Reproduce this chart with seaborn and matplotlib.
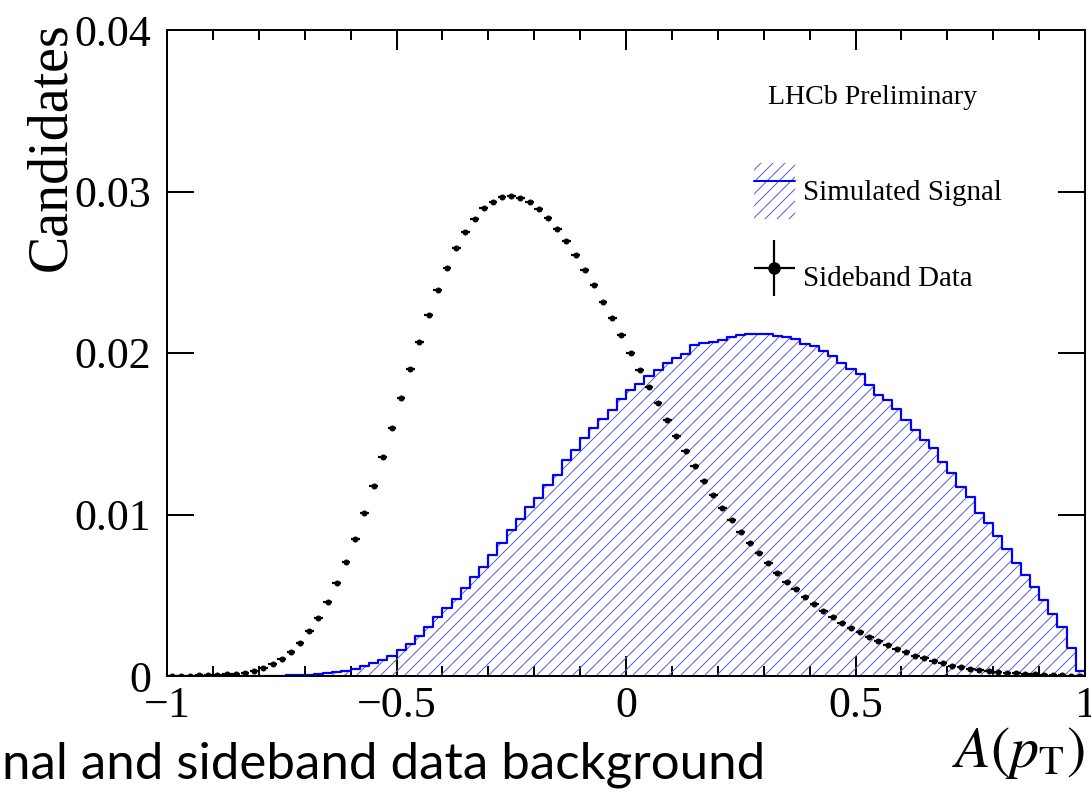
import numpy as np
import matplotlib
matplotlib.use("Agg")
import matplotlib.pyplot as plt
import matplotlib.patches as mpatches
from matplotlib.lines import Line2D
from matplotlib.container import ErrorbarContainer
from matplotlib.legend_handler import HandlerTuple, HandlerErrorbar
import seaborn as sns

# 100 bins of A(pT) between -1 and 1
x_lo, x_hi, n_bins = -1.0, 1.0, 100

simulated_signal = [
    0.0, 0.0, 0.0, 0.0, 0.0, 0.0, 0.0, 0.0, 0.0, 0.0,
    0.00001, 0.00002, 0.00003, 0.00004, 0.00006, 0.00009, 0.00012, 0.00017, 0.00024, 0.00032,
    0.00046, 0.00061, 0.00078, 0.00099, 0.00126, 0.00158, 0.00196, 0.00245, 0.00305, 0.00365,
    0.00419, 0.00477, 0.00547, 0.00611, 0.00677, 0.00749, 0.00822, 0.00904, 0.00972, 0.01048,
    0.01104, 0.01183, 0.01245, 0.01335, 0.01402, 0.01475, 0.01534, 0.01590, 0.01647, 0.01713,
    0.01771, 0.01808, 0.01858, 0.01895, 0.01936, 0.01967, 0.01992, 0.02050, 0.02060, 0.02070,
    0.02080, 0.02097, 0.02111, 0.02116, 0.02118, 0.02118, 0.02105, 0.02101, 0.02085, 0.02056,
    0.02043, 0.02014, 0.01980, 0.01940, 0.01900, 0.01870, 0.01802, 0.01740, 0.01709, 0.01651,
    0.01585, 0.01523, 0.01461, 0.01410, 0.01327, 0.01259, 0.01172, 0.01110, 0.01011, 0.00949,
    0.00867, 0.00784, 0.00702, 0.00625, 0.00553, 0.00471, 0.00384, 0.00305, 0.00171, 0.00033,
]

sideband_data = [
    0.00003, 0.00003, 0.00003, 0.00004, 0.00005, 0.00008, 0.00010, 0.00014, 0.00020, 0.00031,
    0.00051, 0.00074, 0.00107, 0.00150, 0.00204, 0.00277, 0.00361, 0.00460, 0.00576, 0.00708,
    0.00850, 0.01011, 0.01176, 0.01358, 0.01537, 0.01720, 0.01899, 0.02070, 0.02237, 0.02390,
    0.02526, 0.02648, 0.02747, 0.02830, 0.02896, 0.02937, 0.02964, 0.02972, 0.02958, 0.02933,
    0.02890, 0.02834, 0.02770, 0.02692, 0.02609, 0.02516, 0.02421, 0.02318, 0.02217, 0.02110,
    0.02002, 0.01895, 0.01791, 0.01688, 0.01585, 0.01488, 0.01391, 0.01298, 0.01209, 0.01123,
    0.01042, 0.00966, 0.00894, 0.00824, 0.00760, 0.00698, 0.00640, 0.00582, 0.00537, 0.00489,
    0.00444, 0.00402, 0.00365, 0.00328, 0.00297, 0.00270, 0.00243, 0.00217, 0.00192, 0.00167,
    0.00147, 0.00126, 0.00110, 0.00093, 0.00079, 0.00064, 0.00054, 0.00043, 0.00037, 0.00029,
    0.00025, 0.00020, 0.00017, 0.00012, 0.00010, 0.00008, 0.00006, 0.00004, 0.00003, 0.00003,
]

x_ticks = [-1, -0.5, 0, 0.5, 1]
x_tick_labels = ["\u22121", "\u22120.5", "0", "0.5", "1"]
y_ticks = [0, 0.01, 0.02, 0.03, 0.04]
y_tick_labels = ["0", "0.01", "0.02", "0.03", "0.04"]

signal_label = "Simulated Signal"
data_label = "Sideband Data"
watermark = "LHCb Preliminary"
caption = "nal and sideband data background"

edges = np.linspace(x_lo, x_hi, n_bins + 1)
centers = 0.5 * (edges[:-1] + edges[1:])
half_width = 0.5 * (edges[1] - edges[0])

sns.set_theme(style="ticks")
plt.rcParams.update({
    "font.family": ["Liberation Serif", "DejaVu Serif"],
    "mathtext.fontset": "stix",
    "hatch.linewidth": 1.0,
    "axes.linewidth": 2.0,
    "axes.edgecolor": "black",
    "text.color": "black",
    "axes.labelcolor": "black",
    "xtick.color": "black",
    "ytick.color": "black",
})

signal_blue = "#0000ff"
hatch_blue = "#5c5cdc"

fig = plt.figure(figsize=(1091 / 72, 794 / 72), dpi=72)
ax = fig.add_axes([167 / 1091, 1 - 676 / 794, 918 / 1091, 646 / 794])

hist_df = {"A": centers, "w": np.asarray(simulated_signal)}

# hatched area under the simulated signal
sns.histplot(data=hist_df, x="A", weights="w", bins=n_bins, binrange=(x_lo, x_hi),
             element="step", fill=True, color=hatch_blue, facecolor="none",
             edgecolor=hatch_blue, linewidth=0, hatch="//", ax=ax)
# outline of the simulated signal
sns.histplot(data=hist_df, x="A", weights="w", bins=n_bins, binrange=(x_lo, x_hi),
             element="step", fill=False, color=signal_blue, linewidth=2.2, ax=ax)

# sideband data points with horizontal bin-width bars
data_cont = ax.errorbar(centers, sideband_data, xerr=half_width * 0.95,
                        yerr=np.zeros(n_bins), fmt="o", color="black",
                        markersize=5, elinewidth=2.2, capsize=0, zorder=5)

ax.set_xlim(x_lo, x_hi)
ax.set_ylim(0, 0.04)
ax.set_xticks(x_ticks, x_tick_labels)
ax.set_xticks(np.arange(-1, 1.0001, 0.1), minor=True)
ax.set_yticks(y_ticks, y_tick_labels)
ax.yaxis.set_minor_locator(matplotlib.ticker.NullLocator())
ax.tick_params(axis="both", which="both", direction="in", top=True, right=True,
               width=2, labelsize=44)
ax.tick_params(axis="x", which="major", length=20, pad=10)
ax.tick_params(axis="x", which="minor", length=10)
ax.tick_params(axis="y", which="major", length=27, pad=16)
for side in ["top", "right", "left", "bottom"]:
    ax.spines[side].set_visible(True)
    ax.spines[side].set_linewidth(2)

ax.set_ylabel("Candidates", fontsize=56, loc="top")
ax.yaxis.set_label_coords(-0.098, 1.012)
ax.set_xlabel(r"$A(p_{\mathrm{T}})$", fontsize=58, loc="right")
ax.xaxis.set_label_coords(1.0, -0.076)

ax.text(0.6547, 0.896, watermark, transform=ax.transAxes, fontsize=28,
        va="center", ha="left")

sig_patch = mpatches.Patch(facecolor="none", edgecolor=hatch_blue, linewidth=0, hatch="//")
sig_line = Line2D([], [], color=signal_blue, linewidth=2)
ax.legend(handles=[(sig_patch, sig_line), data_cont], labels=[signal_label, data_label],
          handler_map={tuple: HandlerTuple(ndivide=1),
                       ErrorbarContainer: HandlerErrorbar(xerr_size=0.7, yerr_size=0.95)},
          loc="upper left", bbox_to_anchor=((754 - 167) / 918, (676 - 163) / 646),
          frameon=False, fontsize=29, handlelength=1.4, handleheight=2.6,
          handletextpad=0.28, labelspacing=1.05, borderpad=0, borderaxespad=0,
          markerscale=2.3)

fig.text(0.002, 1 - 779 / 794, caption, fontsize=51, ha="left", va="baseline",
         family=["Lato", "DejaVu Sans"], color="black")

fig.savefig("out.png", dpi=72)
